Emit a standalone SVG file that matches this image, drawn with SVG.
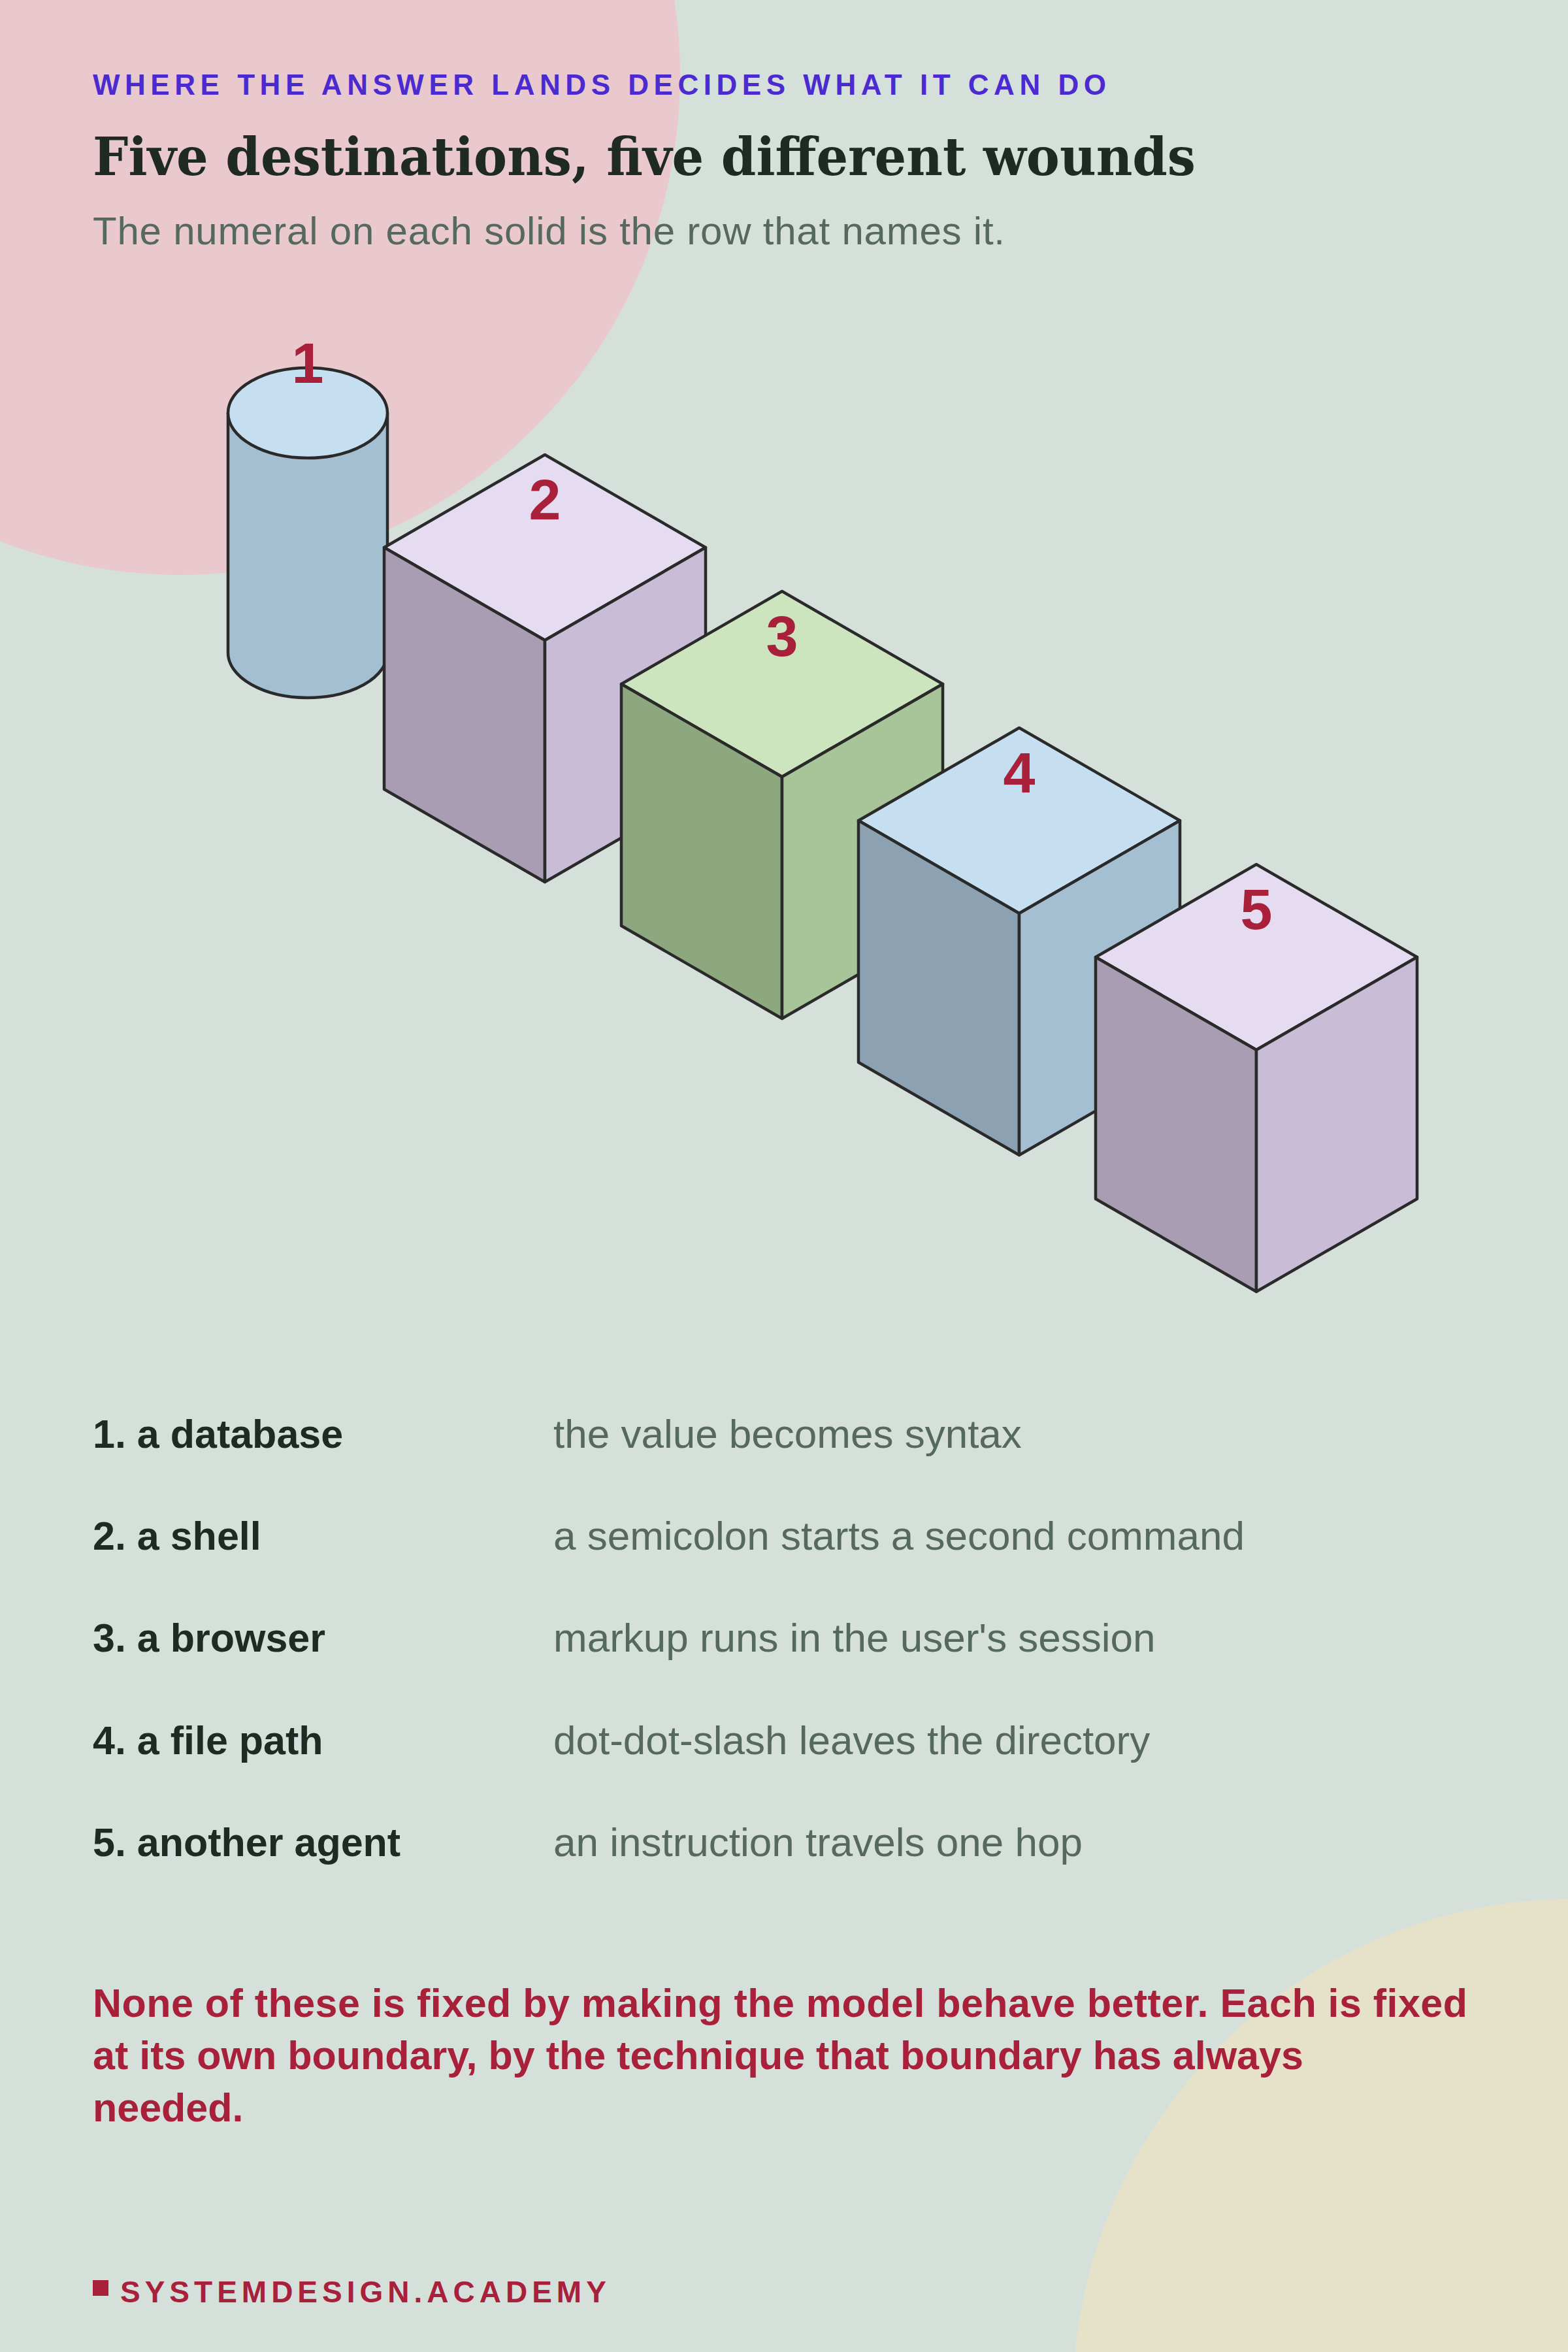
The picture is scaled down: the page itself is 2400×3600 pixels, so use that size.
<svg xmlns="http://www.w3.org/2000/svg" width="2400" height="3600" viewBox="0 0 2400 3600">
<style>
.s{stroke:#2a2a2a;stroke-width:4.5;stroke-linejoin:round}
.num{font-family:"Liberation Sans",Arial,sans-serif;font-weight:bold;font-size:88px;fill:#a8203a;text-anchor:middle}
.k{font-family:"Liberation Sans",Arial,sans-serif;font-weight:bold;font-size:61px;fill:#1f2a24}
.v{font-family:"Liberation Sans",Arial,sans-serif;font-size:62px;fill:#55695e}
.r{font-family:"Liberation Sans",Arial,sans-serif;font-weight:bold;font-size:61px;fill:#a8203a}
</style>
<rect width="2400" height="3600" fill="#d6e0db"/>
<circle cx="276" cy="115" r="765" fill="#e9c9cd"/>
<circle cx="2411" cy="3675" r="769" fill="#e6e1c9"/>
<text x="142" y="145" font-family="Liberation Sans,Arial,sans-serif" font-weight="bold" font-size="44" letter-spacing="6" textLength="1557" fill="#4b2bd0">WHERE THE ANSWER LANDS DECIDES WHAT IT CAN DO</text>
<text x="142" y="268" font-family="DejaVu Serif,Georgia,serif" font-weight="bold" font-size="80" textLength="1688" lengthAdjust="spacingAndGlyphs" fill="#1f2a24">Five destinations, five different wounds</text>
<text x="142" y="374" font-family="Liberation Sans,Arial,sans-serif" font-size="60" textLength="1396" fill="#55695e">The numeral on each solid is the row that names it.</text>
<g id="node1">
<path class="s" d="M349 632 L349 999 A122 69 0 0 0 593 999 L593 632 Z" fill="#a4bfd1"/>
<ellipse class="s" cx="471" cy="632" rx="122" ry="69" fill="#c5dff0"/>
<text class="num" x="471" y="586">1</text>
</g>
<g id="node2" transform="translate(834 696)">
<path class="s" d="M0 0 L246 142 L0 284 L-246 142 Z" fill="#e5dcf2"/>
<path class="s" d="M-246 142 L0 284 L0 654 L-246 512 Z" fill="#a99db3"/>
<path class="s" d="M246 142 L0 284 L0 654 L246 512 Z" fill="#c8bcd6"/>
<text class="num" x="0" y="99">2</text>
</g>
<g id="node3" transform="translate(1197 905)">
<path class="s" d="M0 0 L246 142 L0 284 L-246 142 Z" fill="#cde5bf"/>
<path class="s" d="M-246 142 L0 284 L0 654 L-246 512 Z" fill="#8da87e"/>
<path class="s" d="M246 142 L0 284 L0 654 L246 512 Z" fill="#a8c59a"/>
<text class="num" x="0" y="99">3</text>
</g>
<g id="node4" transform="translate(1560 1114)">
<path class="s" d="M0 0 L246 142 L0 284 L-246 142 Z" fill="#c5dff0"/>
<path class="s" d="M-246 142 L0 284 L0 654 L-246 512 Z" fill="#8ca2b2"/>
<path class="s" d="M246 142 L0 284 L0 654 L246 512 Z" fill="#a4bfd1"/>
<text class="num" x="0" y="99">4</text>
</g>
<g id="node5" transform="translate(1923 1323)">
<path class="s" d="M0 0 L246 142 L0 284 L-246 142 Z" fill="#e5dcf2"/>
<path class="s" d="M-246 142 L0 284 L0 654 L-246 512 Z" fill="#a99db3"/>
<path class="s" d="M246 142 L0 284 L0 654 L246 512 Z" fill="#c8bcd6"/>
<text class="num" x="0" y="99">5</text>
</g>
<g id="connectors"></g>
<g id="rows">
<text class="k" x="142" y="2216">1. a database</text><text class="v" x="847" y="2216">the value becomes syntax</text>
<text class="k" x="142" y="2372">2. a shell</text><text class="v" x="847" y="2372">a semicolon starts a second command</text>
<text class="k" x="142" y="2528">3. a browser</text><text class="v" x="847" y="2528">markup runs in the user's session</text>
<text class="k" x="142" y="2685">4. a file path</text><text class="v" x="847" y="2685">dot-dot-slash leaves the directory</text>
<text class="k" x="142" y="2841">5. another agent</text><text class="v" x="847" y="2841">an instruction travels one hop</text>
</g>
<text class="r" x="142" y="3087" textLength="2104">None of these is fixed by making the model behave better. Each is fixed</text>
<text class="r" x="142" y="3167">at its own boundary, by the technique that boundary has always</text>
<text class="r" x="142" y="3247">needed.</text>
<rect x="142" y="3490" width="24" height="24" fill="#a8203a"/>
<text x="184" y="3524" font-family="Liberation Sans,Arial,sans-serif" font-weight="bold" font-size="46" letter-spacing="7" fill="#a8203a">SYSTEMDESIGN.ACADEMY</text>
</svg>
